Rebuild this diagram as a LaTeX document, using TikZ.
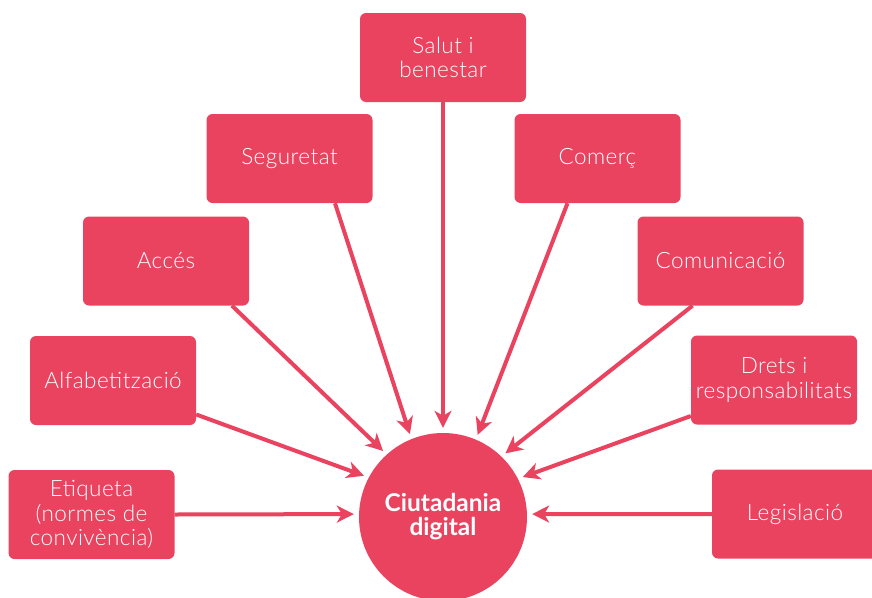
\documentclass[tikz,border=0pt]{standalone}
\usepackage{fontspec}
\setmainfont{Lato}
\IfFontExistsTF{Lato Light}{\newfontfamily\boxfont[LetterSpace=2]{Lato Light}}{\newfontfamily\boxfont[LetterSpace=2]{Lato}}
\usetikzlibrary{arrows.meta}
\definecolor{rosa}{RGB}{233,67,96}
\tikzset{
  box/.style={draw=none, fill=rosa, rounded corners=6pt, minimum width=166pt, minimum height=89pt,
    inner sep=0pt, text=white, align=center, font=\boxfont\fontsize{22.5}{24.5}\selectfont},
  hub/.style={circle, fill=rosa, minimum size=168pt, inner sep=0pt, text=white, align=center,
    font=\fontsize{24.5}{24}\selectfont\bfseries},
  conn/.style={draw=rosa, line width=4pt, -{Stealth[length=17pt,width=17pt,inset=5pt]}, shorten >=5pt}
}
\begin{document}
\begin{tikzpicture}[x=1pt,y=-1pt]
\useasboundingbox (0,0) rectangle (872,597);
\begin{scope}
\clip (0,0) rectangle (872,597);
\node[hub] (circ) at (443,517) {Ciutadania\\digital};
\node[box] (salut) at (443,57.5) {Salut i\\benestar};
\node[box] (seg) at (289.5,158.5) {Seguretat};
\node[box] (com) at (597.5,158.5) {Comerç};
\node[box] (acces) at (166,261) {Accés};
\node[box] (comu) at (720.5,261) {Comunicació};
\node[box] (alfa) at (113,380.5) {Alfabetització};
\node[box] (drets) at (774,380) {Drets i\\responsabilitats};
\node[box] (etiq) at (91.5,514.5) {Etiqueta\\(normes de\\convivència)};
\node[box] (legis) at (795,514) {Legislació};
\draw[conn] (salut.south) -- (circ.90);
\draw[conn] ([xshift=45.5pt]seg.south) -- (circ.112);
\draw[conn] ([xshift=-30pt]com.south) -- (circ.67);
\draw[conn] ([xshift=66pt]acces.south) -- (circ.132);
\draw[conn] ([xshift=-28pt]comu.south) -- (circ.46);
\draw[conn] ([yshift=-34pt]alfa.east) -- (circ.152);
\draw[conn] ([yshift=-36pt]drets.west) -- (circ.27);
\draw[conn] (etiq.east) -- (circ.178);
\draw[conn] (legis.west) -- (circ.2);
\end{scope}
\end{tikzpicture}
\end{document}
